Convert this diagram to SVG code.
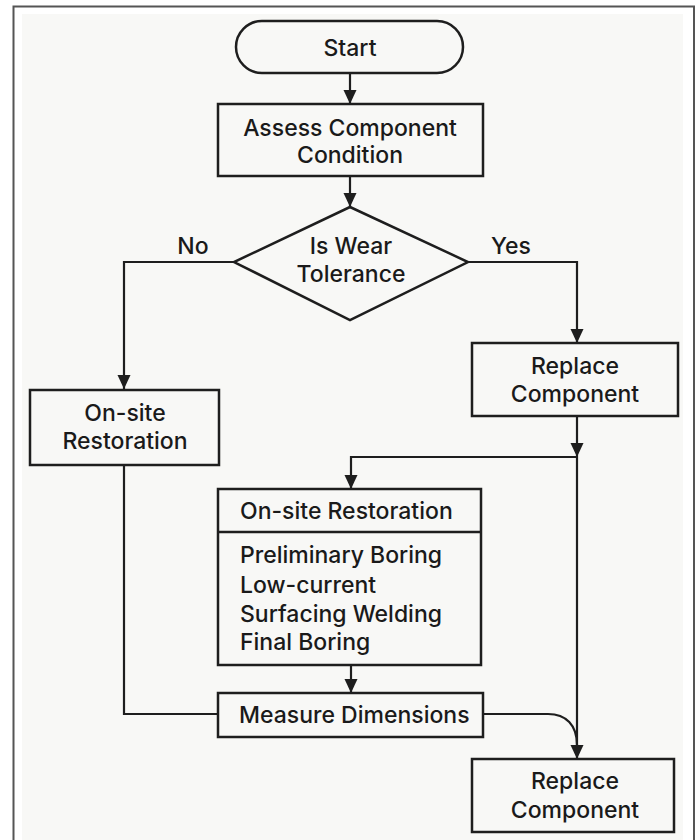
<svg xmlns="http://www.w3.org/2000/svg" width="699" height="840" viewBox="0 0 699 840">
<style>
  .box { fill: none; stroke: #1e1e1e; stroke-width: 2.5; }
  .con { fill: none; stroke: #1e1e1e; stroke-width: 2.2; }
  .t { font-family: Inter, "Liberation Sans", Arial, sans-serif; font-size: 23px; font-weight: 500; fill: #1a1a1a; }
  .c { text-anchor: middle; }
</style>
<defs>
  <marker id="arr" markerUnits="userSpaceOnUse" markerWidth="15" markerHeight="15" viewBox="0 0 15 15" refX="14" refY="7.5" orient="auto">
    <path d="M0,1 L14,7.5 L0,14 Z" fill="#1e1e1e"/>
  </marker>
</defs>
<rect x="0" y="0" width="699" height="840" fill="#ffffff"/>
<rect x="22" y="14" width="661" height="830" fill="#f8f8f6"/>
<path d="M13.5,840 V6.5 H694 V840" fill="none" stroke="#555" stroke-width="2"/>

<g id="connectors">
  <path class="con" d="M350,73 V104" marker-end="url(#arr)"/>
  <path class="con" d="M350,176 V207" marker-end="url(#arr)"/>
  <path class="con" d="M234,262 H124 V389" marker-end="url(#arr)"/>
  <path class="con" d="M468,262 H577 V343" marker-end="url(#arr)"/>
  <path class="con" d="M577,416 V457" marker-end="url(#arr)"/>
  <path class="con" d="M577,457 V759" marker-end="url(#arr)"/>
  <path class="con" d="M577,457 H351 V489" marker-end="url(#arr)"/>
  <path class="con" d="M351,665 V693" marker-end="url(#arr)"/>
  <path class="con" d="M124,465 V714 H218"/>
  <path class="con" d="M483,714 H548 C566,714 577,725 577,745"/>
</g>

<g id="start">
  <rect class="box" x="236" y="21" width="227" height="52" rx="26"/>
  <text class="t c" x="350" y="56">Start</text>
</g>

<g id="assess">
  <rect class="box" x="218" y="104" width="265" height="72"/>
  <text class="t c" x="350" y="136">Assess Component</text>
  <text class="t c" x="350" y="163">Condition</text>
</g>

<g id="decision">
  <polygon class="box" points="350,207 468,262 350,320 234,262"/>
  <text class="t c" x="351" y="254">Is Wear</text>
  <text class="t c" x="351" y="282">Tolerance</text>
</g>

<g id="label-no">
  <text class="t c" x="193" y="254">No</text>
</g>
<g id="label-yes">
  <text class="t c" x="511" y="254">Yes</text>
</g>

<g id="onsite">
  <rect class="box" x="30" y="390" width="189" height="75"/>
  <text class="t c" x="125" y="421">On-site</text>
  <text class="t c" x="125" y="449">Restoration</text>
</g>

<g id="replace-top">
  <rect class="box" x="472" y="343" width="206" height="73"/>
  <text class="t c" x="575" y="374">Replace</text>
  <text class="t c" x="575" y="402">Component</text>
</g>

<g id="restoration-steps">
  <rect class="box" x="218" y="489" width="263" height="176"/>
  <line class="box" x1="218" y1="532" x2="481" y2="532"/>
  <text class="t" x="240" y="519">On-site Restoration</text>
  <text class="t" x="240" y="563">Preliminary Boring</text>
  <text class="t" x="240" y="593">Low-current</text>
  <text class="t" x="240" y="622">Surfacing Welding</text>
  <text class="t" x="240" y="650">Final Boring</text>
</g>

<g id="measure">
  <rect class="box" x="218" y="693" width="265" height="44"/>
  <text class="t" x="239" y="723">Measure Dimensions</text>
</g>

<g id="replace-bottom">
  <rect class="box" x="472" y="759" width="202" height="73"/>
  <text class="t c" x="575" y="789">Replace</text>
  <text class="t c" x="575" y="818">Component</text>
</g>
</svg>
